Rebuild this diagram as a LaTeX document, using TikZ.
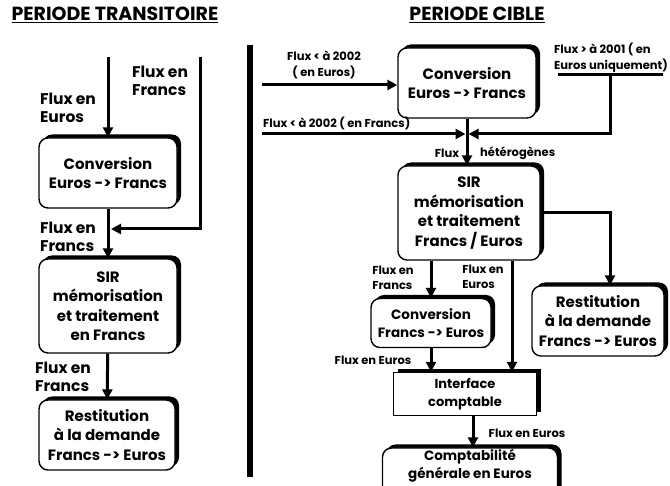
\documentclass[tikz,border=0pt]{standalone}
\usepackage{fontspec}
\setmainfont{Poppins}
\usetikzlibrary{positioning, arrows.meta, shadows}

\begin{document}
\begin{tikzpicture}[x=1pt, y=-1pt, >={Triangle[length=10pt,width=10pt]},
      bloc/.style={draw, line width=1.4pt, rounded corners=9pt, fill=white, align=center, inner sep=0pt,
        general shadow={fill=black, shadow xshift=4pt, shadow yshift=3.5pt},
        font=\fontsize{15}{19.5}\selectfont\bfseries},
      fl/.style={->, line width=3pt},
      grand/.style={font=\fontsize{15.5}{18.5}\selectfont\bfseries, align=left, inner sep=0pt},
      petit/.style={font=\fontsize{11.5}{15.5}\selectfont\bfseries, align=left, inner sep=0pt},
      titre/.style={font=\fontsize{19}{22}\selectfont\bfseries, inner sep=0pt}]

    \useasboundingbox (0,0) rectangle (670,486);
    \clip (0,0) rectangle (670,486);

    % titres
    \node[titre] (tA) at (115,15) {\underline{PERIODE TRANSITOIRE}};
    \node[titre] (tB) at (477,15) {\underline{PERIODE CIBLE}};
    \draw[line width=6pt] (250,45) -- (250,477);

    % periode transitoire
    \node[bloc, minimum width=138pt, minimum height=70pt] (convA) at (108,173) {Conversion\\Euros -> Francs};
    \node[bloc, minimum width=138pt, minimum height=94pt] (sirA) at (108,306) {SIR\\mémorisation\\et traitement\\en Francs};
    \node[bloc, minimum width=136pt, minimum height=70pt] (restA) at (107,435) {Restitution\\à la demande\\Francs -> Euros};

    \coordinate (eurA) at (108,57);
    \coordinate (frA) at (200,57);
    \coordinate (jA) at (111,229);

    \draw[fl] (eurA) -- (convA);
    \draw[fl] (convA) -- (sirA);
    \draw[fl] (sirA) -- (restA);
    \draw[fl] (frA) |- (jA);

    \node[grand] (lEurA) at (68,108) {Flux en\\Euros};
    \node[grand] (lFrA) at (160,81) {Flux en\\Francs};
    \node[grand] (lFrA2) at (68,237) {Flux en\\Francs};
    \node[grand] (lFrA3) at (63,377) {Flux en\\Francs};

    % periode cible
    \node[bloc, minimum width=138pt, minimum height=70pt] (convB) at (467,83) {Conversion\\Euros -> Francs};
    \node[bloc, minimum width=142pt, minimum height=94pt] (sirB) at (469,213) {SIR\\mémorisation\\et traitement\\Francs / Euros};
    \node[bloc, minimum width=132pt, minimum height=70pt] (restB) at (598,321) {Restitution\\à la demande\\Francs -> Euros};
    \node[bloc, minimum width=120pt, minimum height=49pt, font=\fontsize{13.5}{18.5}\selectfont\bfseries] (convC) at (431,323) {Conversion\\Francs -> Euros};
    \node[bloc, rounded corners=0pt, minimum width=143pt, minimum height=43pt, font=\fontsize{13}{18}\selectfont\bfseries] (interB) at (465,394) {Interface\\comptable};
    \node[bloc, minimum width=175pt, minimum height=56pt, font=\fontsize{13.5}{17.5}\selectfont\bfseries] (comptaB) at (470,476) {Comptabilité\\générale en Euros\\[7pt]};

    \coordinate (eurB) at (262,85);
    \coordinate (frB) at (262,134);
    \coordinate (crx) at (467,134);
    \coordinate (unB) at (558,75);
    \coordinate (unBe) at (663,75);
    \coordinate (brB) at (610,75);

    \draw[fl] (eurB) -- (eurB -| convB.west);
    \draw[fl] (frB) -- ([xshift=-1.5pt]crx);
    \draw[line width=3pt] (unB) -- (unBe);
    \draw[fl] (brB) |- ([xshift=1.5pt]crx);
    \draw[fl] (convB.south) -- (convB.south |- sirB.north);
    \draw[fl] (sirB.east) -| ([xshift=12pt]restB.north);
    \draw[fl] (convC.north |- sirB.south) -- (convC.north);
    \draw[fl] ([xshift=43pt]sirB.south) -- ([xshift=43pt]sirB.south |- interB.north);
    \draw[fl] (convC.south) -- (convC.south |- interB.north);
    \draw[fl] ([xshift=8pt]interB.south) -- ([xshift=8pt]interB.south |- comptaB.north);

    \node[petit, align=center] (lEurB) at (324,65) {Flux < à 2002\\( en Euros)};
    \node[petit, anchor=west] (lFrB) at (263,123) {Flux < à 2002 ( en Francs)};
    \node[petit] (lUnB) at (611,58) {Flux > à 2001 ( en\\Euros uniquement)};
    \node[petit] (lFlux) at (447,153) {Flux};
    \node[petit, anchor=west] (lHet) at (480,153) {hétérogènes};
    \node[petit] (lFrC) at (393,278) {Flux en\\Francs};
    \node[petit] (lEuC) at (483,277) {Flux en\\Euros};
    \node[petit] (lEuD) at (373,360) {Flux en Euros};
    \node[petit] (lEuE) at (527,433) {Flux en Euros};
\end{tikzpicture}
\end{document}
